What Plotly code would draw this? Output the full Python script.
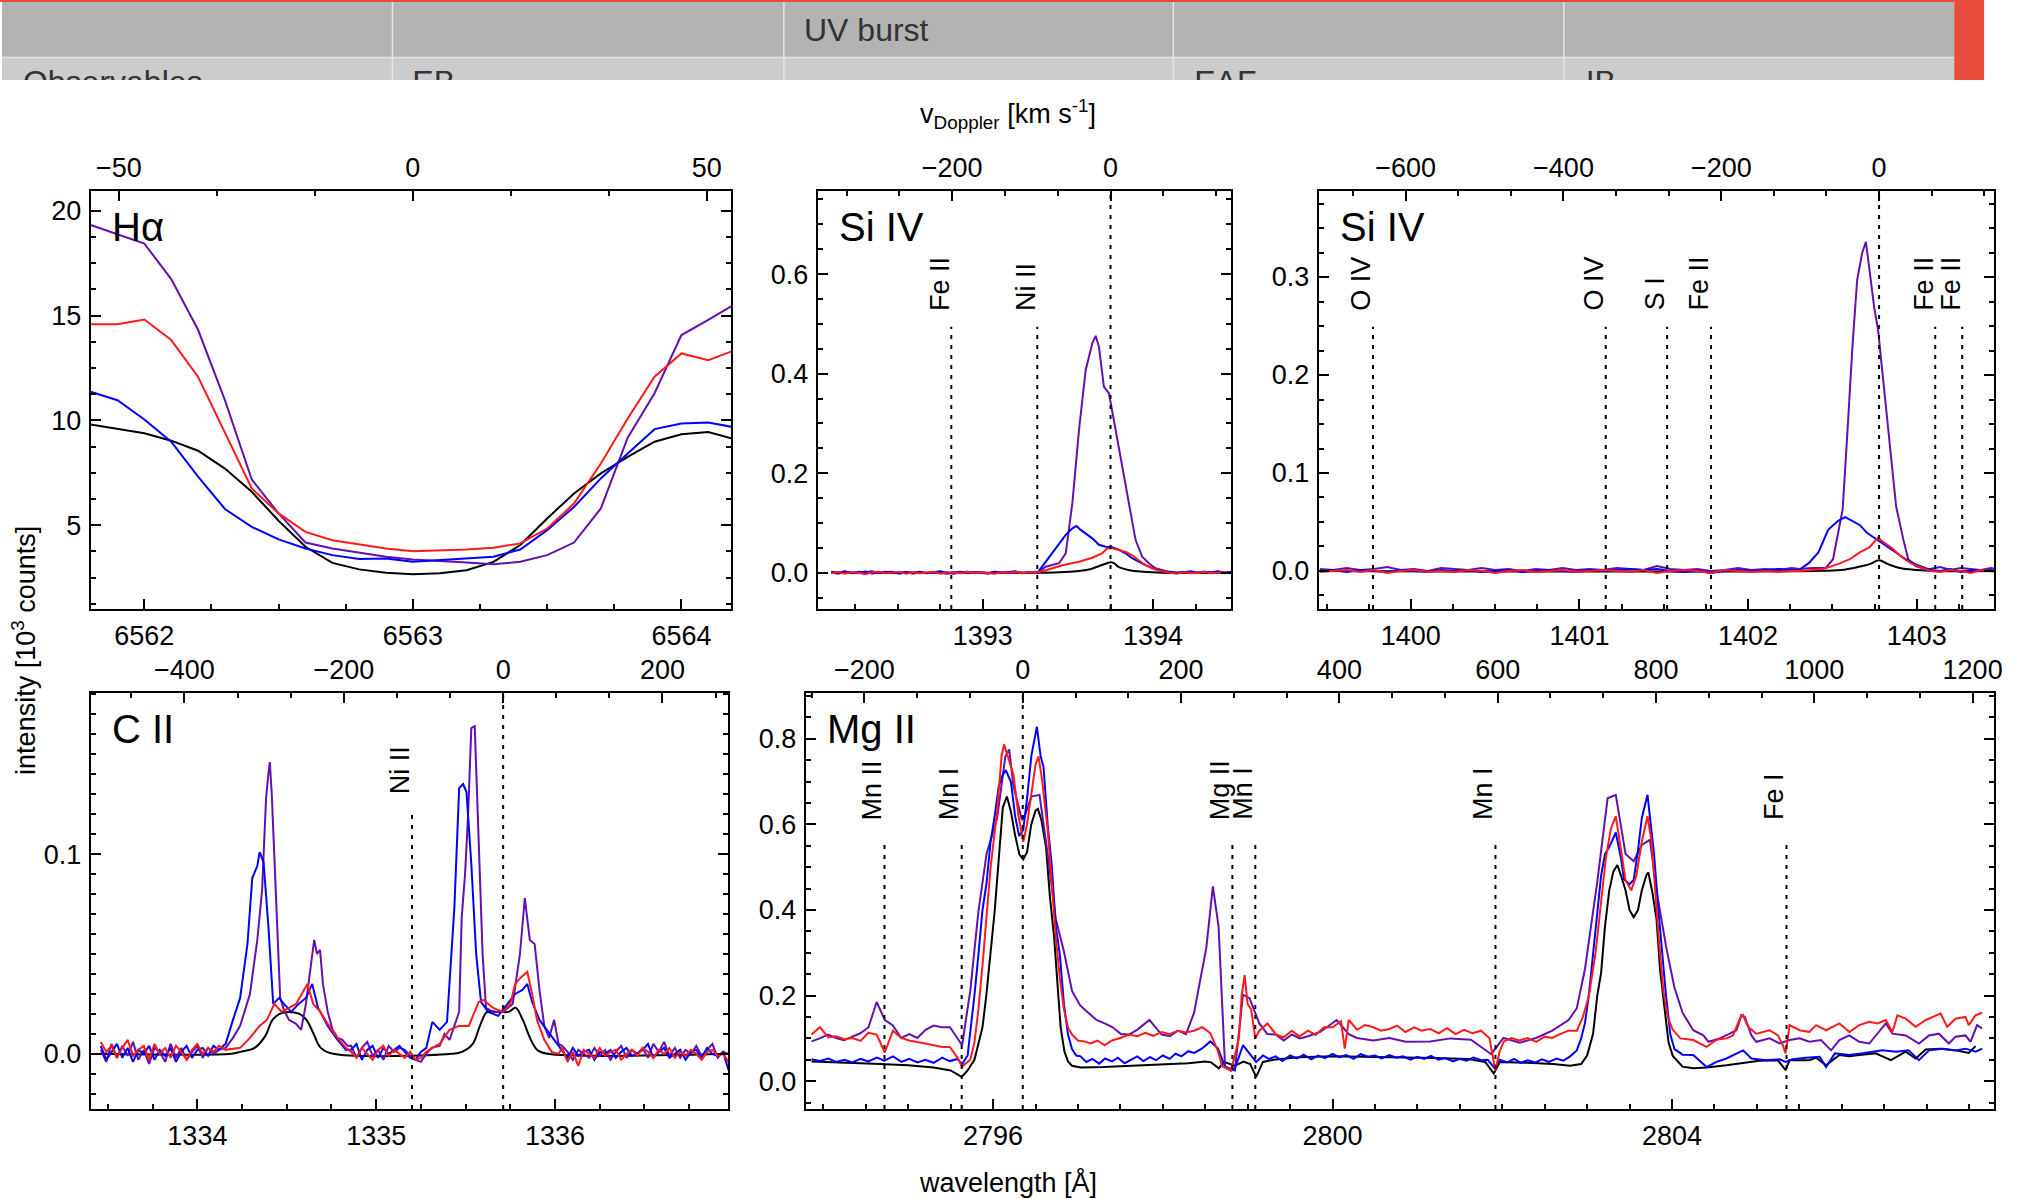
import plotly.graph_objects as go

W, H = 2022, 1199
C_KMS = 299792.458

# ---------------- H-alpha ----------------
ha_wl = [6561.8, 6561.9, 6562.0, 6562.1, 6562.2, 6562.3, 6562.4, 6562.5, 6562.6, 6562.7,
         6562.8, 6562.9, 6563.0, 6563.1, 6563.2, 6563.3, 6563.4, 6563.5, 6563.6, 6563.7,
         6563.8, 6563.9, 6564.0, 6564.1, 6564.2]
ha_black = [9.80, 9.58, 9.38, 9.03, 8.55, 7.70, 6.59, 5.21, 3.97, 3.20,
            2.89, 2.73, 2.66, 2.70, 2.85, 3.25, 4.05, 5.32, 6.51, 7.47,
            8.26, 8.98, 9.34, 9.44, 9.09]
ha_blue = [11.36, 10.96, 10.04, 8.98, 7.31, 5.77, 4.92, 4.32, 3.89, 3.57,
           3.38, 3.41, 3.25, 3.33, 3.41, 3.49, 3.84, 4.76, 5.87, 7.23,
           8.42, 9.58, 9.85, 9.90, 9.66]
ha_red = [14.58, 14.58, 14.81, 13.83, 12.08, 9.45, 6.75, 5.56, 4.68, 4.28,
          4.08, 3.89, 3.76, 3.80, 3.84, 3.92, 4.13, 4.84, 6.03, 7.94,
          10.09, 12.08, 13.19, 12.87, 13.35]
ha_purple = [19.32, 18.87, 18.43, 16.74, 14.32, 10.96, 7.18, 5.56, 4.17, 3.89,
             3.68, 3.49, 3.36, 3.30, 3.22, 3.14, 3.25, 3.57, 4.17, 5.80,
             9.17, 11.29, 14.07, 14.79, 15.55]

# ---------------- Si IV 1393 ----------------
si1_base_l_wl = [1392.11, 1392.15, 1392.19, 1392.23, 1392.27, 1392.31, 1392.35, 1392.39, 1392.43, 1392.47,
                 1392.51, 1392.55, 1392.59, 1392.63, 1392.67, 1392.71, 1392.75, 1392.79, 1392.83, 1392.87,
                 1392.91, 1392.95, 1392.99, 1393.03, 1393.07, 1393.11, 1393.15, 1393.19, 1393.23, 1393.27,
                 1393.31]
si1_base_r_wl = [1394.10, 1394.14, 1394.18, 1394.22, 1394.26, 1394.30, 1394.34, 1394.38, 1394.42, 1394.46]
si1_purple_base_l = [0.001, -0.002, 0.002, 0.000, -0.001, 0.003, -0.002, 0.001, 0.002, -0.001,
                     0.000, 0.002, -0.002, 0.001, -0.001, 0.002, 0.000, -0.002, 0.001, 0.002,
                     -0.001, 0.001, 0.000, -0.002, 0.002, 0.001, -0.001, 0.002, 0.000, 0.001,
                     0.000]
si1_blue_base_l = [0.002, 0.000, 0.003, -0.001, 0.002, 0.001, 0.003, -0.001, 0.001, 0.002,
                   -0.002, 0.001, 0.000, 0.002, -0.001, 0.001, 0.003, 0.000, -0.002, 0.001,
                   0.002, 0.000, 0.001, -0.001, 0.002, 0.000, 0.001, 0.003, -0.001, 0.001,
                   0.002]
si1_red_base_l = [-0.001, 0.002, -0.002, 0.001, 0.000, -0.003, 0.001, 0.002, -0.001, 0.000,
                  0.002, -0.002, 0.001, -0.001, 0.000, 0.002, -0.002, 0.001, 0.000, -0.001,
                  0.002, -0.001, 0.001, 0.000, -0.002, 0.001, 0.000, 0.002, -0.001, 0.001,
                  0.000]
si1_purple_base_r = [0.001, 0.000, 0.002, -0.001, 0.001, 0.002, 0.000, 0.001, -0.001, 0.001]
si1_blue_base_r = [0.002, 0.000, 0.001, 0.003, 0.000, 0.002, 0.001, 0.003, 0.000, 0.002]
si1_red_base_r = [0.000, -0.002, 0.001, 0.000, -0.001, 0.002, -0.001, 0.000, 0.001, -0.001]

si1_purple_line_wl = [1393.322, 1393.370, 1393.448, 1393.487, 1393.526, 1393.565, 1393.604, 1393.643, 1393.663, 1393.682,
                      1393.711, 1393.741, 1393.780, 1393.819, 1393.858, 1393.897, 1393.936, 1393.975, 1394.014, 1394.072]
si1_purple_line = [0.000, 0.012, 0.019, 0.039, 0.140, 0.287, 0.407, 0.461, 0.476, 0.454,
                   0.374, 0.360, 0.287, 0.206, 0.133, 0.066, 0.032, 0.019, 0.009, 0.003]
si1_blue_line_wl = [1393.322, 1393.370, 1393.409, 1393.448, 1393.487, 1393.526, 1393.550, 1393.575, 1393.604, 1393.643,
                    1393.682, 1393.721, 1393.760, 1393.799, 1393.838, 1393.877, 1393.916, 1393.955, 1394.014, 1394.072]
si1_blue_line = [0.000, 0.022, 0.039, 0.059, 0.076, 0.089, 0.094, 0.086, 0.079, 0.069,
                 0.056, 0.052, 0.051, 0.046, 0.039, 0.029, 0.022, 0.015, 0.007, 0.002]
si1_red_line_wl = [1393.322, 1393.370, 1393.468, 1393.565, 1393.643, 1393.702, 1393.731, 1393.760, 1393.799, 1393.838,
                   1393.877, 1393.916, 1393.955, 1393.994, 1394.053]
si1_red_line = [0.001, 0.005, 0.015, 0.022, 0.030, 0.039, 0.049, 0.049, 0.046, 0.042,
                0.035, 0.025, 0.015, 0.009, 0.003]
si1_black_wl = [1392.11, 1393.30, 1393.45, 1393.55, 1393.63, 1393.68, 1393.73, 1393.75, 1393.77, 1393.80,
                1393.86, 1393.94, 1394.05, 1394.46]
si1_black = [0.0, 0.0, 0.001, 0.003, 0.007, 0.013, 0.019, 0.021, 0.019, 0.011,
             0.005, 0.002, 0.0, 0.0]

# ---------------- Si IV 1403 ----------------
si2_base_l_wl = [1399.46, 1399.54, 1399.62, 1399.70, 1399.78, 1399.86, 1399.94, 1400.02, 1400.10, 1400.18,
                 1400.26, 1400.34, 1400.42, 1400.50, 1400.58, 1400.66, 1400.74, 1400.82, 1400.90, 1400.98,
                 1401.06, 1401.14, 1401.22, 1401.30, 1401.38, 1401.46, 1401.54, 1401.62, 1401.70, 1401.78,
                 1401.86, 1401.94, 1402.02, 1402.10, 1402.18, 1402.26]
si2_base_r_wl = [1403.08, 1403.14, 1403.20, 1403.26, 1403.32, 1403.38, 1403.44, 1403.47]
si2_purple_base_l = [0.002, 0.001, 0.003, 0.001, 0.002, 0.004, 0.001, 0.002, 0.000, 0.003,
                     0.002, 0.001, 0.003, 0.001, 0.002, 0.000, 0.002, 0.001, 0.003, 0.001,
                     0.002, 0.001, 0.003, 0.002, 0.001, 0.005, 0.002, 0.001, 0.002, 0.000,
                     0.001, 0.003, 0.001, 0.002, 0.001, 0.003]
si2_blue_base_l = [0.000, 0.001, -0.001, 0.001, 0.000, -0.001, 0.001, 0.000, -0.001, 0.001,
                   0.000, 0.001, -0.001, 0.000, 0.001, -0.001, 0.000, 0.001, 0.000, -0.001,
                   0.001, 0.000, 0.001, 0.002, 0.001, 0.002, 0.000, -0.001, 0.000, -0.002,
                   0.000, 0.001, 0.000, 0.001, 0.002, 0.001]
si2_red_base_l = [-0.001, 0.000, 0.001, -0.001, 0.001, -0.002, 0.000, 0.001, -0.001, 0.000,
                  -0.001, 0.001, 0.000, -0.002, 0.000, 0.001, -0.001, 0.000, 0.001, -0.001,
                  0.000, 0.001, 0.000, -0.001, 0.001, -0.002, 0.000, 0.001, 0.000, -0.002,
                  0.001, 0.000, -0.001, 0.000, -0.001, 0.000]
si2_purple_base_r = [0.002, 0.004, 0.001, 0.003, 0.002, 0.001, 0.003, 0.002]
si2_blue_base_r = [0.001, 0.000, 0.002, -0.001, 0.001, 0.000, 0.001, 0.000]
si2_red_base_r = [0.000, -0.001, 0.001, 0.000, -0.002, 0.001, 0.000, -0.001]

si2_purple_line_wl = [1402.300, 1402.380, 1402.460, 1402.504, 1402.561, 1402.590, 1402.619, 1402.647, 1402.676, 1402.699,
                      1402.719, 1402.748, 1402.771, 1402.806, 1402.849, 1402.878, 1402.921, 1402.950, 1402.993, 1403.050]
si2_purple_line = [0.002, 0.003, 0.003, 0.012, 0.063, 0.144, 0.229, 0.297, 0.324, 0.336,
                   0.307, 0.269, 0.246, 0.185, 0.110, 0.066, 0.032, 0.012, 0.005, 0.002]
si2_blue_line_wl = [1402.302, 1402.360, 1402.417, 1402.475, 1402.532, 1402.576, 1402.619, 1402.662, 1402.705, 1402.748,
                    1402.791, 1402.835, 1402.878, 1402.935, 1402.993, 1403.050]
si2_blue_line = [0.001, 0.008, 0.019, 0.042, 0.051, 0.055, 0.051, 0.047, 0.039, 0.034,
                 0.029, 0.024, 0.019, 0.012, 0.007, 0.003]
si2_red_line_wl = [1402.302, 1402.446, 1402.532, 1402.604, 1402.662, 1402.719, 1402.771, 1402.806, 1402.849, 1402.906,
                   1402.964, 1403.036]
si2_red_line = [0.000, 0.002, 0.007, 0.012, 0.019, 0.024, 0.034, 0.029, 0.024, 0.015,
                0.008, 0.003]
si2_black_wl = [1399.46, 1402.40, 1402.55, 1402.65, 1402.72, 1402.777, 1402.83, 1402.90, 1403.00, 1403.10, 1403.47]
si2_black = [0.0, 0.0, 0.001, 0.004, 0.007, 0.011, 0.007, 0.003, 0.001, 0.0, 0.0]

# ---------------- C II ----------------
cii_base_l_wl = [1333.46, 1333.49, 1333.52, 1333.55, 1333.58, 1333.61, 1333.64, 1333.67, 1333.70, 1333.73,
                 1333.76, 1333.79, 1333.82, 1333.85, 1333.88, 1333.91, 1333.94, 1333.97, 1334.00, 1334.03,
                 1334.06, 1334.09, 1334.12]
cii_base_m_wl = [1334.86, 1334.89, 1334.92, 1334.95, 1334.98, 1335.01, 1335.04, 1335.07, 1335.10, 1335.13,
                 1335.16, 1335.19, 1335.22, 1335.25, 1335.28]
cii_base_r_wl = [1336.04, 1336.07, 1336.10, 1336.13, 1336.16, 1336.19, 1336.22, 1336.25, 1336.28, 1336.31,
                 1336.34, 1336.37, 1336.40, 1336.43, 1336.46, 1336.49, 1336.52, 1336.55, 1336.58, 1336.61,
                 1336.64, 1336.67, 1336.70, 1336.73, 1336.76, 1336.79, 1336.82, 1336.85, 1336.88, 1336.91,
                 1336.94, 1336.97]
cii_purple_base_l = [0.002, -0.004, 0.005, -0.002, 0.004, -0.001, 0.006, -0.003, 0.002, -0.005,
                     0.003, 0.001, -0.004, 0.005, -0.002, 0.003, -0.003, 0.001, 0.004, -0.002,
                     0.003, 0.000, 0.002]
cii_blue_base_l = [0.004, -0.003, 0.001, 0.005, -0.002, 0.003, -0.004, 0.002, 0.000, 0.004,
                   -0.003, 0.002, -0.001, 0.003, -0.004, 0.001, 0.004, -0.002, 0.002, 0.003,
                   -0.001, 0.004, 0.002]
cii_red_base_l = [0.006, 0.001, 0.004, -0.002, 0.003, 0.007, -0.001, 0.002, 0.004, -0.003,
                  0.005, 0.000, 0.003, -0.002, 0.004, 0.001, -0.003, 0.002, 0.005, 0.000,
                  0.003, 0.001, 0.004]
cii_purple_base_m = [0.004, -0.002, 0.003, 0.006, -0.001, 0.002, -0.003, 0.004, 0.001, 0.003,
                     0.002, -0.001, -0.003, -0.004, 0.000]
cii_blue_base_m = [0.002, 0.005, -0.003, 0.002, 0.004, -0.002, 0.003, 0.000, 0.002, 0.004,
                   0.001, -0.002, -0.003, 0.001, 0.003]
cii_red_base_m = [0.001, -0.002, 0.003, 0.000, -0.003, 0.002, 0.004, -0.001, 0.002, 0.000,
                  -0.002, 0.001, -0.003, -0.002, 0.001]
cii_purple_base_r = [0.004, 0.001, -0.003, 0.002, 0.000, -0.002, 0.003, -0.001, 0.002, -0.003,
                     0.001, 0.004, -0.002, 0.002, 0.000, 0.003, -0.002, 0.005, 0.001, 0.006,
                     -0.001, 0.003, -0.002, 0.002, 0.000, 0.004, -0.001, 0.002, 0.005, -0.002,
                     0.001, 0.000]
cii_blue_base_r = [0.002, -0.002, 0.003, -0.001, 0.001, 0.002, -0.003, 0.001, 0.000, 0.002,
                   -0.002, 0.001, 0.003, -0.001, 0.000, 0.002, 0.005, -0.002, 0.001, 0.003,
                   -0.002, 0.000, 0.002, -0.003, 0.001, 0.002, -0.002, 0.003, 0.000, -0.001,
                   0.001, -0.008]
cii_red_base_r = [0.003, -0.004, 0.001, -0.006, 0.002, 0.000, -0.002, 0.003, -0.001, 0.001,
                  0.002, -0.003, 0.000, 0.002, -0.001, 0.003, 0.001, -0.002, 0.002, 0.000,
                  0.003, -0.002, 0.001, -0.001, 0.002, 0.000, -0.003, 0.001, 0.002, -0.001,
                  0.000, -0.004]

cii_purple_l1_wl = [1334.158, 1334.199, 1334.239, 1334.294, 1334.335, 1334.362, 1334.376, 1334.384, 1334.397, 1334.405,
                    1334.416, 1334.424, 1334.444, 1334.463, 1334.484, 1334.512, 1334.552, 1334.580, 1334.607, 1334.634,
                    1334.653, 1334.669, 1334.686, 1334.702, 1334.729, 1334.756, 1334.784, 1334.811, 1334.840]
cii_purple_l1 = [0.003, 0.008, 0.014, 0.030, 0.057, 0.082, 0.115, 0.128, 0.140, 0.146,
                 0.130, 0.113, 0.068, 0.028, 0.022, 0.017, 0.015, 0.012, 0.025, 0.045,
                 0.057, 0.050, 0.052, 0.035, 0.021, 0.012, 0.008, 0.007, 0.004]
cii_purple_l2_wl = [1335.310, 1335.355, 1335.382, 1335.410, 1335.437, 1335.464, 1335.478, 1335.497, 1335.513, 1335.532,
                    1335.551, 1335.573, 1335.595, 1335.614, 1335.654, 1335.709, 1335.763, 1335.804, 1335.831, 1335.859,
                    1335.886, 1335.913, 1335.940, 1335.967, 1335.995, 1336.020]
cii_purple_l2 = [0.003, 0.004, 0.010, 0.007, 0.014, 0.021, 0.068, 0.090, 0.118, 0.163,
                 0.164, 0.111, 0.050, 0.023, 0.021, 0.021, 0.025, 0.050, 0.078, 0.057,
                 0.055, 0.032, 0.014, 0.008, 0.017, 0.005]
cii_blue_l1_wl = [1334.158, 1334.199, 1334.239, 1334.280, 1334.307, 1334.335, 1334.348, 1334.370, 1334.397, 1334.424,
                  1334.457, 1334.484, 1334.525, 1334.566, 1334.607, 1334.642, 1334.675, 1334.729, 1334.784, 1334.830]
cii_blue_l1 = [0.005, 0.017, 0.028, 0.055, 0.088, 0.094, 0.101, 0.096, 0.064, 0.025,
               0.028, 0.025, 0.021, 0.025, 0.028, 0.035, 0.023, 0.014, 0.007, 0.002]
cii_blue_l2_wl = [1335.314, 1335.355, 1335.396, 1335.437, 1335.464, 1335.486, 1335.505, 1335.532, 1335.559, 1335.586,
                  1335.627, 1335.682, 1335.736, 1335.777, 1335.818, 1335.845, 1335.872, 1335.913, 1335.954, 1335.995,
                  1336.020]
cii_blue_l2 = [0.016, 0.012, 0.016, 0.073, 0.133, 0.135, 0.131, 0.095, 0.050, 0.026,
               0.021, 0.019, 0.025, 0.030, 0.032, 0.035, 0.026, 0.017, 0.012, 0.007,
               0.004]
cii_red_l1_wl = [1334.158, 1334.239, 1334.294, 1334.348, 1334.389, 1334.430, 1334.471, 1334.512, 1334.552, 1334.615,
                 1334.648, 1334.688, 1334.729, 1334.784, 1334.830]
cii_red_l1 = [0.002, 0.003, 0.008, 0.014, 0.017, 0.025, 0.021, 0.023, 0.025, 0.035,
              0.025, 0.021, 0.015, 0.008, 0.003]
cii_red_l2_wl = [1335.314, 1335.355, 1335.410, 1335.464, 1335.518, 1335.573, 1335.600, 1335.654, 1335.709, 1335.750,
                 1335.777, 1335.818, 1335.845, 1335.872, 1335.899, 1335.940, 1335.981, 1336.020]
cii_red_l2 = [0.003, 0.005, 0.012, 0.014, 0.014, 0.026, 0.027, 0.023, 0.021, 0.025,
              0.035, 0.039, 0.041, 0.030, 0.017, 0.007, 0.001, 0.000]
cii_black_wl = [1333.46, 1334.19, 1334.24, 1334.32, 1334.38, 1334.42, 1334.46, 1334.51, 1334.57, 1334.61,
                1334.65, 1334.69, 1334.76, 1335.42, 1335.48, 1335.54, 1335.58, 1335.62, 1335.68, 1335.74,
                1335.78, 1335.82, 1335.86, 1335.90, 1335.96, 1336.97]
cii_black = [0.0, 0.0, 0.001, 0.003, 0.009, 0.017, 0.020, 0.021, 0.020, 0.017,
             0.010, 0.003, 0.0, 0.0, 0.001, 0.005, 0.014, 0.021, 0.021, 0.021,
             0.023, 0.017, 0.008, 0.002, 0.0, 0.0]

# ---------------- Mg II (wavelength, intensity) ----------------
mg_black = [(2793.86, 0.046), (2794.20, 0.044), (2794.60, 0.041), (2795.00, 0.037), (2795.30, 0.032),
            (2795.50, 0.025), (2795.63, 0.010), (2795.70, 0.025), (2795.78, 0.050), (2795.83, 0.090),
            (2795.875, 0.126), (2795.92, 0.200), (2795.971, 0.295), (2796.02, 0.400), (2796.067, 0.520),
            (2796.115, 0.640), (2796.163, 0.665), (2796.21, 0.630), (2796.259, 0.575), (2796.31, 0.530),
            (2796.355, 0.518), (2796.40, 0.535), (2796.45, 0.600), (2796.50, 0.632), (2796.528, 0.636),
            (2796.57, 0.610), (2796.624, 0.547), (2796.67, 0.430), (2796.719, 0.337), (2796.76, 0.220),
            (2796.796, 0.126), (2796.84, 0.070), (2796.883, 0.046), (2796.93, 0.036), (2797.03, 0.032),
            (2797.30, 0.033), (2797.60, 0.035), (2797.90, 0.038), (2798.10, 0.040), (2798.30, 0.042),
            (2798.50, 0.046), (2798.57, 0.044), (2798.66, 0.030), (2798.72, 0.045), (2798.85, 0.036),
            (2798.95, 0.046), (2799.03, 0.040), (2799.10, 0.010), (2799.18, 0.045), (2799.30, 0.050),
            (2799.60, 0.056), (2800.00, 0.058), (2800.40, 0.057), (2800.80, 0.056), (2801.20, 0.054),
            (2801.60, 0.052), (2801.80, 0.045), (2801.90, 0.018), (2801.97, 0.045), (2802.30, 0.043),
            (2802.60, 0.040), (2802.80, 0.036), (2802.93, 0.040), (2803.00, 0.060), (2803.07, 0.110),
            (2803.12, 0.200), (2803.165, 0.253), (2803.21, 0.360), (2803.261, 0.446), (2803.31, 0.490),
            (2803.357, 0.505), (2803.40, 0.480), (2803.453, 0.446), (2803.50, 0.400), (2803.549, 0.383),
            (2803.60, 0.400), (2803.645, 0.446), (2803.70, 0.482), (2803.722, 0.488), (2803.77, 0.440),
            (2803.818, 0.379), (2803.86, 0.260), (2803.914, 0.168), (2803.96, 0.090), (2804.01, 0.059),
            (2804.125, 0.034), (2804.251, 0.030), (2804.408, 0.032), (2804.642, 0.037), (2804.838, 0.043),
            (2805.03, 0.048), (2805.249, 0.049), (2805.339, 0.026), (2805.386, 0.049), (2805.503, 0.049),
            (2805.62, 0.049), (2805.699, 0.055), (2805.816, 0.037), (2805.973, 0.061), (2806.09, 0.058),
            (2806.207, 0.061), (2806.40, 0.065), (2806.58, 0.049), (2806.755, 0.069), (2806.872, 0.053),
            (2806.99, 0.074), (2807.166, 0.076), (2807.342, 0.072), (2807.498, 0.066), (2807.577, 0.082)]

mg_blue = [(2793.86, 0.051), (2793.96, 0.047), (2794.06, 0.053), (2794.15, 0.045), (2794.25, 0.050),
           (2794.34, 0.044), (2794.44, 0.052), (2794.53, 0.046), (2794.63, 0.055), (2794.72, 0.048),
           (2794.82, 0.058), (2794.92, 0.045), (2795.01, 0.052), (2795.11, 0.044), (2795.20, 0.050),
           (2795.30, 0.043), (2795.40, 0.055), (2795.49, 0.047), (2795.58, 0.052), (2795.635, 0.040),
           (2795.70, 0.060), (2795.731, 0.109), (2795.78, 0.200), (2795.827, 0.295), (2795.875, 0.400),
           (2795.923, 0.463), (2795.971, 0.560), (2796.019, 0.620), (2796.067, 0.690), (2796.115, 0.716),
           (2796.15, 0.727), (2796.211, 0.699), (2796.259, 0.620), (2796.307, 0.573), (2796.355, 0.587),
           (2796.40, 0.660), (2796.451, 0.760), (2796.516, 0.828), (2796.56, 0.760), (2796.595, 0.733),
           (2796.643, 0.600), (2796.691, 0.505), (2796.74, 0.360), (2796.787, 0.295), (2796.835, 0.180),
           (2796.883, 0.109), (2796.93, 0.075), (2796.98, 0.060), (2797.03, 0.058), (2797.10, 0.045),
           (2797.17, 0.052), (2797.25, 0.041), (2797.32, 0.053), (2797.40, 0.046), (2797.47, 0.055),
           (2797.55, 0.042), (2797.62, 0.050), (2797.70, 0.058), (2797.77, 0.047), (2797.85, 0.056),
           (2797.92, 0.049), (2798.00, 0.060), (2798.08, 0.052), (2798.15, 0.064), (2798.22, 0.058),
           (2798.30, 0.070), (2798.37, 0.066), (2798.46, 0.076), (2798.56, 0.093), (2798.65, 0.076),
           (2798.734, 0.034), (2798.80, 0.025), (2798.85, 0.030), (2798.945, 0.084), (2799.02, 0.065),
           (2799.10, 0.045), (2799.18, 0.060), (2799.25, 0.052), (2799.33, 0.058), (2799.41, 0.047),
           (2799.50, 0.060), (2799.58, 0.053), (2799.66, 0.062), (2799.75, 0.051), (2799.83, 0.060),
           (2799.91, 0.054), (2800.00, 0.064), (2800.08, 0.056), (2800.16, 0.061), (2800.25, 0.052),
           (2800.33, 0.063), (2800.42, 0.057), (2800.50, 0.060), (2800.58, 0.053), (2800.67, 0.061),
           (2800.75, 0.055), (2800.83, 0.058), (2800.92, 0.050), (2801.00, 0.057), (2801.08, 0.052),
           (2801.16, 0.059), (2801.25, 0.050), (2801.33, 0.054), (2801.42, 0.046), (2801.50, 0.052),
           (2801.58, 0.048), (2801.66, 0.055), (2801.75, 0.049), (2801.83, 0.050), (2801.91, 0.030),
           (2801.97, 0.050), (2802.06, 0.044), (2802.14, 0.052), (2802.22, 0.043), (2802.30, 0.049),
           (2802.39, 0.044), (2802.47, 0.051), (2802.55, 0.045), (2802.64, 0.053), (2802.72, 0.048),
           (2802.80, 0.058), (2802.878, 0.072), (2802.93, 0.100), (2802.974, 0.135), (2803.02, 0.200),
           (2803.07, 0.295), (2803.118, 0.380), (2803.165, 0.480), (2803.21, 0.530), (2803.261, 0.547),
           (2803.338, 0.581), (2803.40, 0.520), (2803.434, 0.472), (2803.50, 0.460), (2803.549, 0.470),
           (2803.60, 0.540), (2803.645, 0.615), (2803.712, 0.669), (2803.75, 0.600), (2803.789, 0.531),
           (2803.84, 0.400), (2803.885, 0.295), (2803.93, 0.200), (2803.981, 0.109), (2804.03, 0.075),
           (2804.125, 0.062), (2804.251, 0.061), (2804.408, 0.033), (2804.525, 0.045), (2804.642, 0.053),
           (2804.72, 0.060), (2804.838, 0.072), (2804.937, 0.053), (2805.11, 0.049), (2805.27, 0.051),
           (2805.339, 0.045), (2805.42, 0.051), (2805.58, 0.055), (2805.74, 0.057), (2805.816, 0.033),
           (2805.92, 0.065), (2806.09, 0.061), (2806.25, 0.065), (2806.48, 0.072), (2806.64, 0.069),
           (2806.79, 0.072), (2806.91, 0.049), (2807.03, 0.072), (2807.19, 0.076), (2807.34, 0.072),
           (2807.46, 0.076), (2807.58, 0.069), (2807.655, 0.076)]

mg_red = [(2793.86, 0.109), (2793.96, 0.126), (2794.06, 0.102), (2794.15, 0.105), (2794.25, 0.098),
          (2794.34, 0.101), (2794.44, 0.094), (2794.53, 0.113), (2794.628, 0.109), (2794.724, 0.067),
          (2794.82, 0.118), (2794.916, 0.101), (2795.01, 0.095), (2795.11, 0.092), (2795.20, 0.088),
          (2795.30, 0.084), (2795.40, 0.080), (2795.49, 0.080), (2795.58, 0.055), (2795.635, 0.034),
          (2795.70, 0.045), (2795.731, 0.050), (2795.78, 0.090), (2795.827, 0.168), (2795.875, 0.270),
          (2795.923, 0.379), (2795.971, 0.500), (2796.048, 0.632), (2796.10, 0.760), (2796.13, 0.787),
          (2796.17, 0.760), (2796.24, 0.716), (2796.30, 0.620), (2796.355, 0.559), (2796.40, 0.600),
          (2796.451, 0.670), (2796.50, 0.740), (2796.536, 0.759), (2796.58, 0.700), (2796.643, 0.589),
          (2796.69, 0.470), (2796.739, 0.337), (2796.787, 0.240), (2796.835, 0.168), (2796.883, 0.125),
          (2796.93, 0.109), (2797.00, 0.095), (2797.074, 0.093), (2797.15, 0.088), (2797.23, 0.095),
          (2797.314, 0.084), (2797.40, 0.095), (2797.50, 0.101), (2797.602, 0.109), (2797.70, 0.105),
          (2797.794, 0.113), (2797.89, 0.106), (2797.986, 0.115), (2798.08, 0.110), (2798.177, 0.118),
          (2798.27, 0.114), (2798.369, 0.118), (2798.465, 0.126), (2798.56, 0.112), (2798.65, 0.070),
          (2798.70, 0.035), (2798.801, 0.025), (2798.85, 0.060), (2798.897, 0.101), (2798.93, 0.200),
          (2798.964, 0.248), (2799.00, 0.180), (2799.041, 0.168), (2799.09, 0.100), (2799.137, 0.118),
          (2799.233, 0.135), (2799.33, 0.110), (2799.42, 0.102), (2799.52, 0.118), (2799.61, 0.105),
          (2799.712, 0.118), (2799.80, 0.108), (2799.90, 0.126), (2800.00, 0.126), (2800.10, 0.140),
          (2800.144, 0.076), (2800.192, 0.143), (2800.29, 0.120), (2800.38, 0.131), (2800.48, 0.126),
          (2800.57, 0.118), (2800.67, 0.122), (2800.76, 0.130), (2800.86, 0.115), (2800.96, 0.126),
          (2801.05, 0.118), (2801.15, 0.122), (2801.25, 0.112), (2801.35, 0.124), (2801.45, 0.110),
          (2801.55, 0.120), (2801.65, 0.112), (2801.75, 0.118), (2801.85, 0.100), (2801.918, 0.025),
          (2801.97, 0.070), (2802.02, 0.093), (2802.11, 0.101), (2802.20, 0.095), (2802.30, 0.101),
          (2802.40, 0.092), (2802.50, 0.104), (2802.59, 0.101), (2802.68, 0.110), (2802.782, 0.118),
          (2802.88, 0.118), (2802.95, 0.150), (2803.022, 0.200), (2803.10, 0.300), (2803.165, 0.420),
          (2803.22, 0.520), (2803.28, 0.590), (2803.338, 0.619), (2803.40, 0.540), (2803.453, 0.470),
          (2803.52, 0.446), (2803.58, 0.480), (2803.645, 0.560), (2803.712, 0.619), (2803.76, 0.560),
          (2803.80, 0.446), (2803.85, 0.320), (2803.90, 0.210), (2803.95, 0.150), (2804.01, 0.120),
          (2804.10, 0.100), (2804.251, 0.096), (2804.408, 0.080), (2804.525, 0.097), (2804.642, 0.100),
          (2804.720, 0.107), (2804.799, 0.146), (2804.838, 0.154), (2804.897, 0.127), (2804.994, 0.111),
          (2805.151, 0.119), (2805.249, 0.107), (2805.307, 0.084), (2805.339, 0.065), (2805.386, 0.131),
          (2805.503, 0.119), (2805.620, 0.115), (2805.699, 0.131), (2805.816, 0.119), (2805.973, 0.135),
          (2806.090, 0.115), (2806.207, 0.131), (2806.325, 0.139), (2806.422, 0.135), (2806.520, 0.143),
          (2806.598, 0.115), (2806.657, 0.154), (2806.755, 0.146), (2806.872, 0.127), (2806.990, 0.143),
          (2807.068, 0.150), (2807.166, 0.158), (2807.244, 0.127), (2807.342, 0.146), (2807.459, 0.150),
          (2807.498, 0.131), (2807.577, 0.154), (2807.655, 0.160)]

mg_purple = [(2793.861, 0.093), (2793.957, 0.100), (2794.053, 0.109), (2794.149, 0.101), (2794.245, 0.096),
             (2794.341, 0.105), (2794.436, 0.112), (2794.532, 0.126), (2794.628, 0.185), (2794.724, 0.143),
             (2794.820, 0.130), (2794.916, 0.101), (2795.012, 0.110), (2795.108, 0.101), (2795.204, 0.120),
             (2795.300, 0.130), (2795.396, 0.126), (2795.492, 0.126), (2795.60, 0.095), (2795.635, 0.084),
             (2795.731, 0.211), (2795.827, 0.396), (2795.923, 0.531), (2796.048, 0.615), (2796.144, 0.758),
             (2796.19, 0.775), (2796.24, 0.690), (2796.307, 0.632), (2796.34, 0.610), (2796.374, 0.620),
             (2796.451, 0.665), (2796.547, 0.669), (2796.643, 0.531), (2796.739, 0.379), (2796.835, 0.303),
             (2796.930, 0.211), (2797.026, 0.177), (2797.122, 0.160), (2797.218, 0.143), (2797.314, 0.135),
             (2797.410, 0.126), (2797.506, 0.110), (2797.602, 0.109), (2797.698, 0.120), (2797.842, 0.143),
             (2797.986, 0.109), (2798.082, 0.105), (2798.177, 0.118), (2798.273, 0.110), (2798.369, 0.160),
             (2798.513, 0.312), (2798.590, 0.455), (2798.657, 0.362), (2798.734, 0.034), (2798.849, 0.025),
             (2798.945, 0.202), (2799.022, 0.194), (2799.137, 0.135), (2799.233, 0.110), (2799.329, 0.109),
             (2799.425, 0.095), (2799.520, 0.109), (2799.616, 0.100), (2799.712, 0.105), (2799.856, 0.115),
             (2800.048, 0.143), (2800.192, 0.110), (2800.288, 0.101), (2800.480, 0.095), (2800.671, 0.101),
             (2800.863, 0.092), (2801.151, 0.093), (2801.391, 0.100), (2801.631, 0.097), (2801.871, 0.063),
             (2802.014, 0.101), (2802.206, 0.090), (2802.398, 0.101), (2802.590, 0.118), (2802.782, 0.143),
             (2802.878, 0.170), (2802.974, 0.261), (2803.118, 0.463), (2803.242, 0.661), (2803.338, 0.669),
             (2803.453, 0.531), (2803.549, 0.514), (2803.645, 0.552), (2803.741, 0.564), (2803.818, 0.446),
             (2803.933, 0.312), (2804.029, 0.219), (2804.125, 0.160), (2804.251, 0.119), (2804.37, 0.107),
             (2804.43, 0.092), (2804.564, 0.100), (2804.681, 0.111), (2804.760, 0.119), (2804.818, 0.154),
             (2804.858, 0.150), (2804.936, 0.107), (2804.994, 0.092), (2805.151, 0.100), (2805.268, 0.088),
             (2805.386, 0.096), (2805.503, 0.100), (2805.620, 0.092), (2805.757, 0.096), (2805.875, 0.072),
             (2805.973, 0.096), (2806.090, 0.107), (2806.207, 0.092), (2806.325, 0.088), (2806.422, 0.111),
             (2806.520, 0.135), (2806.598, 0.111), (2806.755, 0.107), (2806.911, 0.088), (2807.029, 0.107),
             (2807.146, 0.111), (2807.263, 0.088), (2807.342, 0.104), (2807.459, 0.107), (2807.518, 0.092),
             (2807.596, 0.131), (2807.655, 0.123)]

# reference lines: (wavelength, label)
si1_lines = [(1392.815, "Fe II"), (1393.32, "Ni II")]
si2_lines = [(1399.776, "O IV"), (1401.156, "O IV"), (1401.52, "S I"), (1401.78, "Fe II"),
             (1403.11, "Fe II"), (1403.27, "Fe II")]
cii_lines = [(1335.20, "Ni II")]
mg_lines = [(2794.72, "Mn II"), (2795.63, "Mn I"), (2798.82, "Mg II"), (2799.09, "Mn I"),
            (2801.92, "Mn I"), (2805.35, "Fe I")]

# table header texts
table_head = ["UV burst"]
table_row2 = ["Observables", "EB", "EAF", "IB"]

# ---------------- assemble curves ----------------
def cat(*parts):
    out = []
    for p in parts:
        out += p
    return out

def unzip(pairs):
    return [p[0] for p in pairs], [p[1] for p in pairs]

si1 = {
    "black": (si1_black_wl, si1_black),
    "purple": (cat(si1_base_l_wl, si1_purple_line_wl, si1_base_r_wl), cat(si1_purple_base_l, si1_purple_line, si1_purple_base_r)),
    "blue": (cat(si1_base_l_wl, si1_blue_line_wl, si1_base_r_wl), cat(si1_blue_base_l, si1_blue_line, si1_blue_base_r)),
    "red": (cat(si1_base_l_wl, si1_red_line_wl, si1_base_r_wl), cat(si1_red_base_l, si1_red_line, si1_red_base_r)),
}
si2 = {
    "black": (si2_black_wl, si2_black),
    "purple": (cat(si2_base_l_wl, si2_purple_line_wl, si2_base_r_wl), cat(si2_purple_base_l, si2_purple_line, si2_purple_base_r)),
    "blue": (cat(si2_base_l_wl, si2_blue_line_wl, si2_base_r_wl), cat(si2_blue_base_l, si2_blue_line, si2_blue_base_r)),
    "red": (cat(si2_base_l_wl, si2_red_line_wl, si2_base_r_wl), cat(si2_red_base_l, si2_red_line, si2_red_base_r)),
}
cii = {
    "black": (cii_black_wl, cii_black),
    "purple": (cat(cii_base_l_wl, cii_purple_l1_wl, cii_base_m_wl, cii_purple_l2_wl, cii_base_r_wl),
               cat(cii_purple_base_l, cii_purple_l1, cii_purple_base_m, cii_purple_l2, cii_purple_base_r)),
    "blue": (cat(cii_base_l_wl, cii_blue_l1_wl, cii_base_m_wl, cii_blue_l2_wl, cii_base_r_wl),
             cat(cii_blue_base_l, cii_blue_l1, cii_blue_base_m, cii_blue_l2, cii_blue_base_r)),
    "red": (cat(cii_base_l_wl, cii_red_l1_wl, cii_base_m_wl, cii_red_l2_wl, cii_base_r_wl),
            cat(cii_red_base_l, cii_red_l1, cii_red_base_m, cii_red_l2, cii_red_base_r)),
}
mg = {"black": unzip(mg_black), "purple": unzip(mg_purple), "blue": unzip(mg_blue), "red": unzip(mg_red)}
ha = {"black": (ha_wl, ha_black), "purple": (ha_wl, ha_purple), "blue": (ha_wl, ha_blue), "red": (ha_wl, ha_red)}

for d in (si1, si2, cii, mg, ha):
    for k, (xs, ys) in d.items():
        assert len(xs) == len(ys), (k, len(xs), len(ys))

# ---------------- styling / layout ----------------
FONT = "Liberation Sans, Arial, Helvetica, sans-serif"
COLORS = {"black": "#000000", "purple": "#6410b0", "blue": "#0000ff", "red": "#ff1a1a"}
ORDER = ["black", "purple", "blue", "red"]
TXT = 27

panels = [
    dict(data=ha, box=(91, 734, 191, 609), xr=(6561.80, 6564.185), yr=(1.0, 20.94), lam0=6563.0,
         xdt=1, xmn=0.25, ydt=5, ymn=1.25, vdt=50, yfmt="d", title="Hα", lines=[], ltop=0, lbot=0, smooth_black=False),
    dict(data=si1, box=(821, 1236, 191, 609), xr=(1392.031, 1394.458), yr=(-0.073, 0.767), lam0=1393.75,
         xdt=1, xmn=0.25, ydt=0.2, ymn=0.05, vdt=200, yfmt=".1f", title="Si IV", lines=si1_lines, ltop=0.675, lbot=0.709, smooth_black=True),
    dict(data=si2, box=(1324, 2002, 191, 609), xr=(1399.454, 1403.459), yr=(-0.0388, 0.3878), lam0=1402.777,
         xdt=1, xmn=0.25, ydt=0.1, ymn=0.025, vdt=200, yfmt=".1f", title="Si IV", lines=si2_lines, ltop=0.675, lbot=0.709, smooth_black=True),
    dict(data=cii, box=(91, 731, 693, 1109), xr=(1333.403, 1336.968), yr=(-0.0276, 0.1806), lam0=1335.71,
         xdt=1, xmn=0.25, ydt=0.1, ymn=0.01, vdt=200, yfmt=".1f", title="C II", lines=cii_lines, ltop=0.714, lbot=0.752, smooth_black=True),
    dict(data=mg, box=(809, 2002, 693, 1109), xr=(2793.793, 2807.796), yr=(-0.065, 0.907), lam0=2796.35,
         xdt=4, xmn=0.5, ydt=0.2, ymn=0.05, vdt=200, yfmt=".1f", title="Mg II", lines=mg_lines, ltop=0.637, lbot=0.69, smooth_black=False),
]

fig = go.Figure()
layout = dict(width=W, height=H, margin=dict(l=0, r=0, t=0, b=0), autosize=False,
              paper_bgcolor="white", plot_bgcolor="white", showlegend=False, hovermode=False,
              font=dict(family=FONT, size=TXT, color="black"))
shapes = []
annotations = []

def px(x):
    return x / W

def py(y):
    return 1 - y / H

TICKFONT = dict(family=FONT, size=TXT, color="black")

for i, p in enumerate(panels, start=1):
    xa = "xaxis" if i == 1 else f"xaxis{i}"
    ya = "yaxis" if i == 1 else f"yaxis{i}"
    xref = "x" if i == 1 else f"x{i}"
    yref = "y" if i == 1 else f"y{i}"
    ti = i + 5
    xta = f"xaxis{ti}"
    xtref = f"x{ti}"
    l, r, t, b = p["box"]
    common = dict(showgrid=False, zeroline=False, showline=True, linewidth=2, linecolor="black",
                  ticks="inside", tickwidth=2, tickcolor="black", tickfont=TICKFONT, fixedrange=True)
    layout[xa] = dict(common, domain=[px(l), px(r)], range=list(p["xr"]), anchor=yref, side="bottom",
                      mirror=False, ticklen=10, dtick=p["xdt"], tick0=0,
                      minor=dict(dtick=p["xmn"], tick0=0, ticks="inside", ticklen=5, tickwidth=2, tickcolor="black"),
                      ticklabelstandoff=2)
    v0 = C_KMS * (p["xr"][0] - p["lam0"]) / p["lam0"]
    v1 = C_KMS * (p["xr"][1] - p["lam0"]) / p["lam0"]
    layout[xta] = dict(common, overlaying=xref, anchor=yref, side="top", range=[v0, v1],
                       mirror=False, ticklen=10, dtick=p["vdt"], tick0=0,
                       minor=dict(dtick=p["vdt"] / 3.0, tick0=0, ticks="inside", ticklen=5, tickwidth=2, tickcolor="black"),
                       ticklabelstandoff=1)
    layout[ya] = dict(common, domain=[py(b), py(t)], range=list(p["yr"]), anchor=xref,
                      mirror="ticks", ticklen=10, dtick=p["ydt"], tick0=0, tickformat=p["yfmt"],
                      minor=dict(dtick=p["ymn"], tick0=0, ticks="inside", ticklen=5, tickwidth=2, tickcolor="black"),
                      ticklabelstandoff=2)
    # invisible trace to activate velocity axis
    fig.add_trace(go.Scatter(x=[v0, v1], y=[None, None], xaxis=xtref, yaxis=yref, mode="lines",
                             showlegend=False, hoverinfo="skip"))
    for name in ORDER:
        xs, ys = p["data"][name]
        shape = "spline" if (name == "black" and p["smooth_black"]) else "linear"
        fig.add_trace(go.Scatter(x=xs, y=ys, xaxis=xref, yaxis=yref, mode="lines",
                                 line=dict(color=COLORS[name], width=2, shape=shape),
                                 showlegend=False, hoverinfo="skip"))
    # reference lines
    if p["lines"]:
        shapes.append(dict(type="line", xref=xref, yref=f"{yref} domain", x0=p["lam0"], x1=p["lam0"],
                           y0=0, y1=1, line=dict(color="black", width=2, dash="4px,6px")))
        for lam, lab in p["lines"]:
            shapes.append(dict(type="line", xref=xref, yref=f"{yref} domain", x0=lam, x1=lam,
                               y0=0, y1=p["ltop"], line=dict(color="black", width=2, dash="4px,6px")))
            annotations.append(dict(xref=xref, yref=f"{yref} domain", x=lam, y=p["lbot"], text=lab,
                                    textangle=-90, xanchor="right", yanchor="bottom", xshift=5,
                                    showarrow=False, font=dict(family=FONT, size=TXT, color="black")))
    # panel title
    annotations.append(dict(xref="paper", yref="paper", x=px(l + 19), y=py(t + 12), text=p["title"],
                            xanchor="left", yanchor="top", showarrow=False,
                            font=dict(family=FONT, size=40, color="black")))

# axis titles
annotations.append(dict(xref="paper", yref="paper", x=px(1012), y=py(114),
                        text="v<sub>Doppler</sub> [km s<sup>-1</sup>]", showarrow=False,
                        xanchor="center", yanchor="middle", font=dict(family=FONT, size=TXT, color="black")))
annotations.append(dict(xref="paper", yref="paper", x=px(1012), y=py(1182), text="wavelength [Å]",
                        showarrow=False, xanchor="center", yanchor="middle",
                        font=dict(family=FONT, size=TXT, color="black")))
annotations.append(dict(xref="paper", yref="paper", x=px(24), y=py(650),
                        text="intensity [10<sup>3</sup> counts]", textangle=-90, showarrow=False,
                        xanchor="center", yanchor="middle", font=dict(family=FONT, size=TXT, color="black")))

# ---------------- table strip at top (drawn on a helper subplot in pixel units) ----------------
RED_T = "#e74c3c"
layout["xaxis11"] = dict(domain=[0, 1], range=[0, W], visible=False, fixedrange=True, anchor="y11")
layout["yaxis11"] = dict(domain=[py(80), 1], range=[80, 0], visible=False, fixedrange=True, anchor="x11")

def strip_rect(x0, x1, y0, y1, color):
    fig.add_trace(go.Scatter(x=[x0, x1, x1, x0, x0], y=[y0, y0, y1, y1, y0], fill="toself",
                             fillcolor=color, mode="lines", line=dict(width=0, color=color),
                             xaxis="x11", yaxis="y11", showlegend=False, hoverinfo="skip"))

strip_rect(0, 1962, 0, 2, RED_T)
strip_rect(2, 1962, 2, 57, "#b3b3b3")
strip_rect(2, 1962, 58, 80, "#cccccc")
strip_rect(1962, 1992, 0, 80, RED_T)
fig.add_trace(go.Scatter(x=[2, 1962], y=[57.5, 57.5], mode="lines", line=dict(color="#e2e2e2", width=1.5),
                         xaxis="x11", yaxis="y11", showlegend=False, hoverinfo="skip"))
for sx in (394, 787, 1178, 1570):
    fig.add_trace(go.Scatter(x=[sx, sx], y=[2, 80], mode="lines", line=dict(color="#e6e6e6", width=1.5),
                             xaxis="x11", yaxis="y11", showlegend=False, hoverinfo="skip"))
# second row text, cut off by the strip's bottom edge
fig.add_trace(go.Scatter(x=[23, 414, 1199, 1592], y=[69, 69, 69, 69], text=table_row2, mode="text",
                         textposition="bottom right", cliponaxis=True,
                         textfont=dict(family=FONT, size=32, color="#333333"),
                         xaxis="x11", yaxis="y11", showlegend=False, hoverinfo="skip"))
annotations.append(dict(xref="paper", yref="paper", x=px(805), y=py(30), text=table_head[0],
                        xanchor="left", yanchor="middle", showarrow=False,
                        font=dict(family=FONT, size=32, color="#333333")))

layout["shapes"] = shapes
layout["annotations"] = annotations
fig.update_layout(**layout)

fig.write_html("out.html", config={"displayModeBar": False, "staticPlot": True},
               post_script=["document.body.style.margin='0px';document.body.style.overflow='hidden';"])
